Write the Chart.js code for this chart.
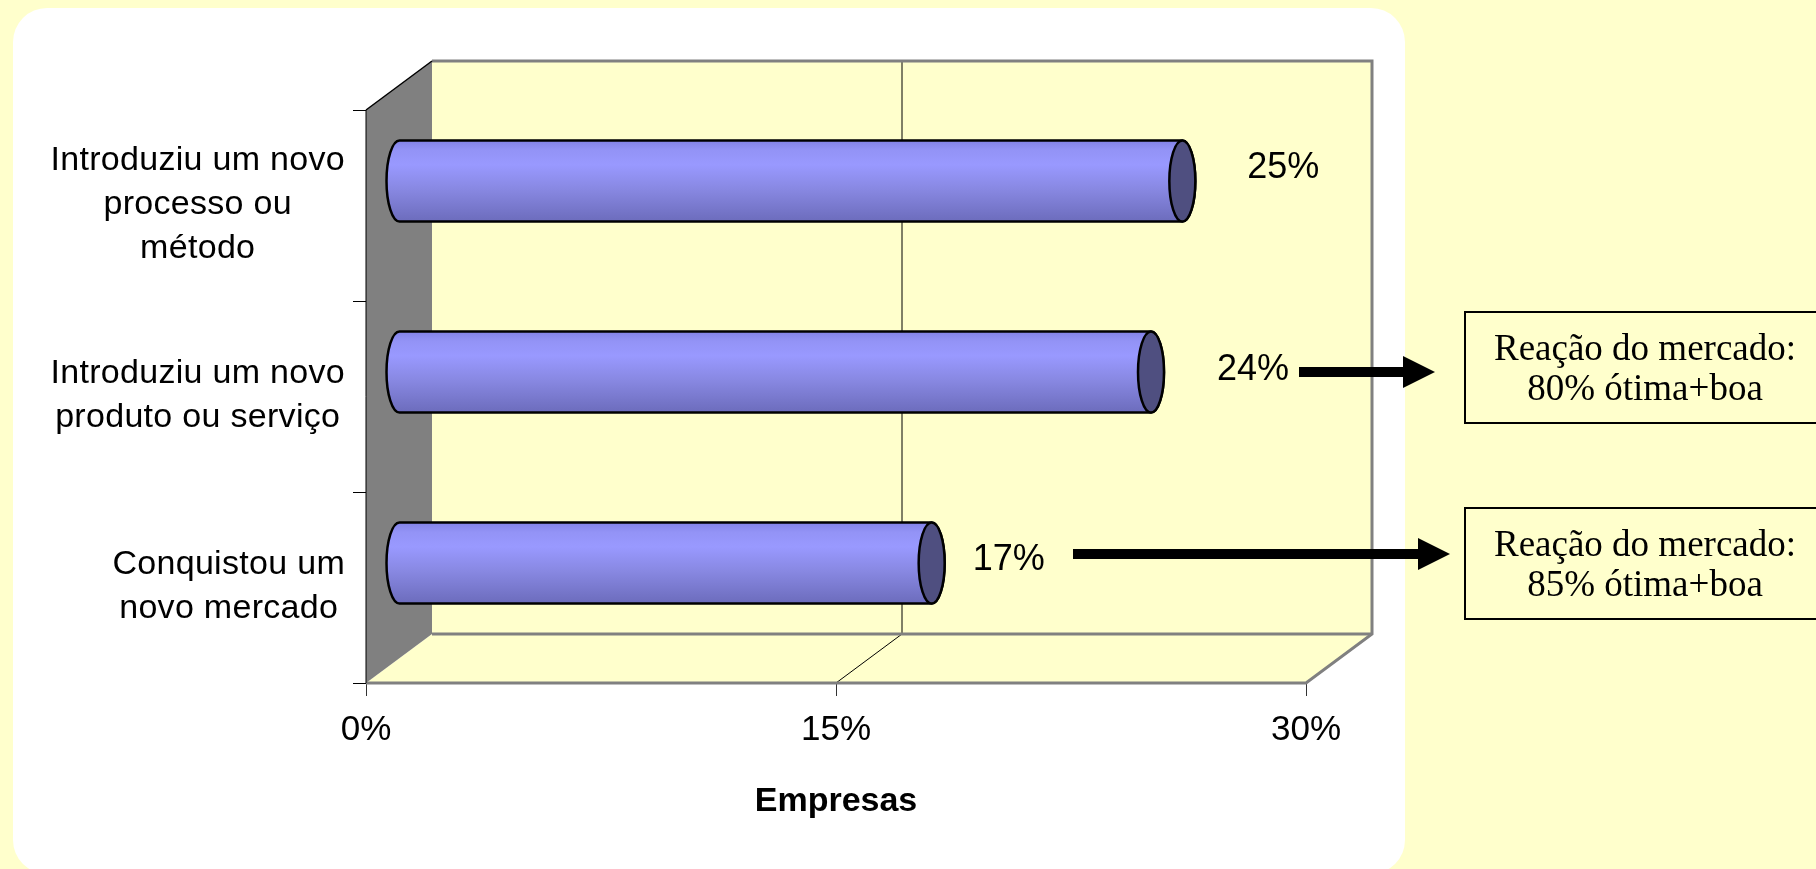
<!DOCTYPE html>
<html>
<head>
<meta charset="utf-8">
<title>Empresas</title>
<script src="https://cdn.jsdelivr.net/npm/chart.js"></script>
<style>
  html, body { margin: 0; padding: 0; background: #ffffcc; overflow: hidden; }
  #panel { position: absolute; left: 13px; top: 8px; width: 1392px; height: 866px; background: #ffffff; border-radius: 34px; }
  #chart { position: absolute; left: 0; top: 0; }
</style>
</head>
<body>
<div id="panel"></div>
<canvas id="chart" width="1816" height="869"></canvas>
<script>
// values
const categories = [
    ['Introduziu um novo', 'processo ou', 'método'],
    ['Introduziu um novo', 'produto ou serviço'],
    ['Conquistou um', 'novo mercado']
];
const shares = [25, 24, 17];
const axisTicks = [0, 15, 30];
const notes = [
    ['Reação do mercado:', '80% ótima+boa'],
    ['Reação do mercado:', '85% ótima+boa']
];

// layout of the 3d box and the side notes
const DEPTH = { x: 66, y: -49 };
const labelNudge = [[101, -3], [102, 8], [77, 7]];
const arrows = [
    { x0: 1299, x1: 1435, y: 372 },
    { x0: 1073, x1: 1450, y: 554 }
];
const noteBoxes = [
    { x: 1465, y: 312, w: 352, h: 111 },
    { x: 1465, y: 508, w: 352, h: 111 }
];

const SANS = '"Liberation Sans", Arial, sans-serif';
const SERIF = '"Liberation Serif", "Times New Roman", serif';

function poly(ctx, pts) {
    ctx.beginPath();
    ctx.moveTo(pts[0][0], pts[0][1]);
    for (let i = 1; i < pts.length; i++) ctx.lineTo(pts[i][0], pts[i][1]);
    ctx.closePath();
}

function line(ctx, x0, y0, x1, y1, color, width) {
    ctx.beginPath();
    ctx.moveTo(x0, y0);
    ctx.lineTo(x1, y1);
    ctx.strokeStyle = color;
    ctx.lineWidth = width;
    ctx.stroke();
}

const scenePlugin = {
    id: 'scene',
    beforeDatasetsDraw(chart) {
        const { ctx, chartArea: a } = chart;
        const xs = chart.scales.x;
        const dx = DEPTH.x, dy = DEPTH.y;
        ctx.save();
        ctx.fillStyle = '#ffffcc';
        ctx.fillRect(a.left + dx, a.top + dy, a.right - a.left, a.bottom - a.top);
        poly(ctx, [[a.left, a.bottom], [a.left + dx, a.bottom + dy], [a.right + dx, a.bottom + dy], [a.right, a.bottom]]);
        ctx.fill();
        // side wall
        ctx.fillStyle = '#808080';
        poly(ctx, [[a.left, a.top], [a.left + dx, a.top + dy], [a.left + dx, a.bottom + dy], [a.left, a.bottom]]);
        ctx.fill();

        // grid lines for the inner ticks
        axisTicks.slice(1, -1).forEach(v => {
            const px = xs.getPixelForValue(v);
            line(ctx, px, a.bottom, px + dx, a.bottom + dy, '#000', 1);
            line(ctx, px + dx, a.bottom + dy, px + dx, a.top + dy, '#000', 1);
        });

        // outlines
        ctx.lineJoin = 'miter';
        ctx.beginPath();
        ctx.moveTo(a.left + dx, a.top + dy);
        ctx.lineTo(a.right + dx, a.top + dy);
        ctx.lineTo(a.right + dx, a.bottom + dy);
        ctx.lineTo(a.right, a.bottom);
        ctx.lineTo(a.left, a.bottom);
        ctx.strokeStyle = '#808080';
        ctx.lineWidth = 3;
        ctx.stroke();
        line(ctx, a.left + dx, a.bottom + dy, a.right + dx, a.bottom + dy, '#808080', 3);
        line(ctx, a.left, a.top, a.left + dx, a.top + dy, '#000', 1.5);
        line(ctx, a.left, a.top, a.left, a.bottom, '#000', 1);
        ctx.restore();
    },
    afterDatasetsDraw(chart) {
        const { ctx } = chart;
        const dx = DEPTH.x, dy = DEPTH.y;
        const meta = chart.getDatasetMeta(0);
        ctx.save();
        meta.data.forEach((bar, i) => {
            const { x, y, base, height } = bar.getProps(['x', 'y', 'base', 'height'], true);
            const cy = y + dy / 2, x0 = base + dx / 2, x1 = x + dx / 2;
            const ry = height / 2, rx = 13;

            const grad = ctx.createLinearGradient(0, cy - ry, 0, cy + ry);
            grad.addColorStop(0, '#8282e6');
            grad.addColorStop(0.12, '#9393f6');
            grad.addColorStop(0.3, '#9999ff');
            grad.addColorStop(0.6, '#8888e2');
            grad.addColorStop(1, '#6c6cbc');

            ctx.beginPath();
            ctx.moveTo(x0, cy - ry);
            ctx.lineTo(x1, cy - ry);
            ctx.ellipse(x1, cy, rx, ry, 0, -Math.PI / 2, Math.PI / 2);
            ctx.lineTo(x0, cy + ry);
            ctx.ellipse(x0, cy, rx, ry, 0, Math.PI / 2, Math.PI * 1.5);
            ctx.closePath();
            ctx.fillStyle = grad;
            ctx.fill();
            ctx.strokeStyle = '#000';
            ctx.lineWidth = 2.5;
            ctx.stroke();

            ctx.beginPath();
            ctx.ellipse(x1, cy, rx, ry, 0, 0, Math.PI * 2);
            ctx.fillStyle = '#4f4f80';
            ctx.fill();
            ctx.stroke();

            ctx.fillStyle = '#000';
            ctx.font = '36px ' + SANS;
            ctx.textAlign = 'center';
            ctx.textBaseline = 'alphabetic';
            ctx.fillText(shares[i] + '%', x1 + labelNudge[i][0], cy + labelNudge[i][1]);
        });
        ctx.restore();
    },
    afterDraw(chart) {
        const { ctx } = chart;
        const ys = chart.scales.y;
        ctx.save();

        // category labels: block right-aligned, lines centred inside it
        ctx.font = '34px ' + SANS;
        ctx.letterSpacing = '0.3px';
        ctx.fillStyle = '#000';
        ctx.textAlign = 'center';
        ctx.textBaseline = 'alphabetic';
        const lh = 44;
        categories.forEach((lines, i) => {
            const maxW = Math.max(...lines.map(t => ctx.measureText(t).width));
            const cx = ys.right - 21 - maxW / 2;
            const cy = ys.getPixelForTick(i) - 4;
            lines.forEach((t, k) => {
                ctx.fillText(t, cx, cy + (k - (lines.length - 1) / 2) * lh + 12);
            });
        });
        ctx.letterSpacing = '0px';

        // arrows
        ctx.fillStyle = '#000';
        arrows.forEach(a => {
            ctx.fillRect(a.x0, a.y - 5, a.x1 - 32 - a.x0, 10);
            poly(ctx, [[a.x1 - 32, a.y - 16], [a.x1, a.y], [a.x1 - 32, a.y + 16]]);
            ctx.fill();
        });

        // note boxes
        noteBoxes.forEach((b, i) => {
            ctx.fillStyle = '#ffffcc';
            ctx.fillRect(b.x, b.y, b.w, b.h);
            ctx.strokeStyle = '#000';
            ctx.lineWidth = 2;
            ctx.strokeRect(b.x, b.y, b.w, b.h);
            ctx.fillStyle = '#000';
            ctx.font = '37px ' + SERIF;
            ctx.textAlign = 'center';
            ctx.fillText(notes[i][0], 1645, b.y + 48);
            ctx.fillText(notes[i][1], 1645, b.y + 88);
        });
        ctx.restore();
    }
};

const chartConfig = {
    type: 'bar',
    data: {
        labels: categories,
        datasets: [{
            label: 'Empresas',
            data: shares,
            backgroundColor: 'rgba(0,0,0,0)',
            borderWidth: 0,
            barPercentage: 0.85,
            categoryPercentage: 0.5
        }]
    },
    options: {
        indexAxis: 'y',
        responsive: false,
        animation: false,
        devicePixelRatio: 1,
        layout: { padding: { left: 0, top: 110, right: 510, bottom: 0 } },
        plugins: {
            legend: { display: false },
            tooltip: { enabled: false }
        },
        scales: {
            y: {
                type: 'category',
                offset: true,
                grid: { offset: true, drawOnChartArea: false, drawTicks: true, tickLength: 13, color: '#000', lineWidth: 1 },
                border: { display: false },
                ticks: { display: false },
                afterFit: scale => { scale.width = 366; }
            },
            x: {
                min: 0,
                max: 30,
                afterBuildTicks: scale => { scale.ticks = axisTicks.map(v => ({ value: v })); },
                grid: { drawOnChartArea: false, drawTicks: true, tickLength: 13, color: '#333', lineWidth: 1 },
                border: { display: false },
                ticks: {
                    color: '#000',
                    padding: 13,
                    font: { family: SANS, size: 35 },
                    callback: function(value) {
                        return value + '%';
                    }
                },
                title: {
                    display: true,
                    text: 'Empresas',
                    color: '#000',
                    font: { family: SANS, size: 34, weight: 'bold' },
                    padding: { top: 0, bottom: 47 }
                },
                afterFit: scale => { scale.height = 186; }
            }
        }
    },
    plugins: [scenePlugin]
};

new Chart(document.getElementById('chart'), chartConfig);
</script>
</body>
</html>
